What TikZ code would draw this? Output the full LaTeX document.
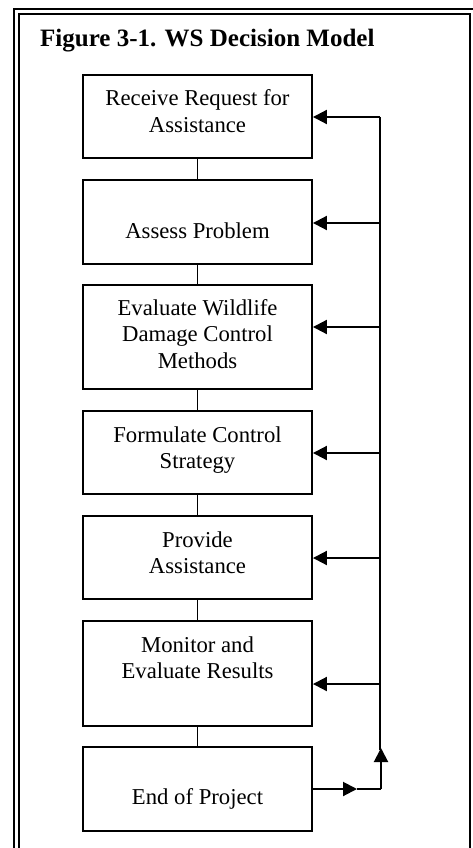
\documentclass[tikz,border=0pt]{standalone}
\usepackage{fontspec}
\setmainfont{Liberation Serif}
\usetikzlibrary{arrows.meta}
\begin{document}
\begin{tikzpicture}[x=1pt,y=-1pt,
  stepbox/.style={draw, line width=1.9pt, minimum width=229pt, inner sep=0pt},
  lbl/.style={inner sep=0pt, anchor=base, font=\fontsize{22.7}{26.5}\selectfont},
  link/.style={line width=1.4pt},
  fb/.style={line width=2pt, -{Triangle[length=14pt,width=14pt]}},
  trunk/.style={line width=2pt},
  frame/.style={line width=2pt}]
\useasboundingbox (0,0) rectangle (472,848);
% double frame
\draw[frame] (14,850) -- (14,9) -- (480,9);
\draw[frame] (19,850) -- (19,14) -- (470,14) -- (470,850);
% title
\node[inner sep=0pt, anchor=base west, font=\fontsize{25}{30}\selectfont\bfseries] (title) at (40,47) {Figure 3-1. WS Decision Model};
% boxes
\node[stepbox, minimum height=83pt]  (b1) at (197.5,116.5) {};
\node[stepbox, minimum height=84pt]  (b2) at (197.5,222) {};
\node[stepbox, minimum height=104pt] (b3) at (197.5,337) {};
\node[stepbox, minimum height=83pt]  (b4) at (197.5,452.5) {};
\node[stepbox, minimum height=83pt]  (b5) at (197.5,557.5) {};
\node[stepbox, minimum height=105pt] (b6) at (197.5,673.5) {};
\node[stepbox, minimum height=84pt]  (b7) at (197.5,789) {};
% texts
\node[lbl] (t1) at (197.5,106) {\begin{tabular}[t]{@{}c@{}}Receive Request for\\Assistance\end{tabular}};
\node[lbl] (t2) at (197.5,238) {Assess Problem};
\node[lbl] (t3) at (197.5,315) {\begin{tabular}[t]{@{}c@{}}Evaluate Wildlife\\Damage Control\\Methods\end{tabular}};
\node[lbl] (t4) at (197.5,442) {\begin{tabular}[t]{@{}c@{}}Formulate Control\\Strategy\end{tabular}};
\node[lbl] (t5) at (197.5,547) {\begin{tabular}[t]{@{}c@{}}Provide\\Assistance\end{tabular}};
\node[lbl] (t6) at (197.5,652) {\begin{tabular}[t]{@{}c@{}}Monitor and\\Evaluate Results\end{tabular}};
\node[lbl] (t7) at (197.5,804) {End of Project};
% links between boxes
\draw[link] (b1.south) -- (b2.north);
\draw[link] (b2.south) -- (b3.north);
\draw[link] (b3.south) -- (b4.north);
\draw[link] (b4.south) -- (b5.north);
\draw[link] (b5.south) -- (b6.north);
\draw[link] (b6.south) -- (b7.north);
% feedback trunk
\coordinate (k1) at (380,117);
\coordinate (k2) at (380,223);
\coordinate (k3) at (380,327);
\coordinate (k4) at (380,453);
\coordinate (k5) at (380,558);
\coordinate (k6) at (380,684);
\coordinate (mid) at (357,789);
\coordinate (corner) at (381,789);
\coordinate (top) at (381,748);
\draw[trunk] (k1) -- (380,750);
\draw[fb] (k1) -- (b1.east |- k1);
\draw[fb] (k2) -- (b2.east |- k2);
\draw[fb] (k3) -- (b3.east |- k3);
\draw[fb] (k4) -- (b4.east |- k4);
\draw[fb] (k5) -- (b5.east |- k5);
\draw[fb] (k6) -- (b6.east |- k6);
\draw[fb] (b7.east) -- (mid);
\draw[trunk] (mid) -- (corner);
\draw[fb] (corner) -- (top);
\end{tikzpicture}
\end{document}
